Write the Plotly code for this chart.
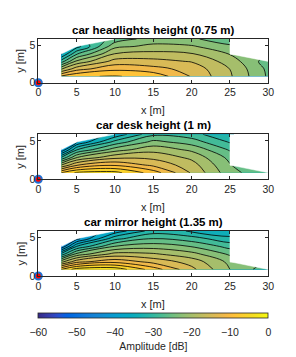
import plotly.graph_objects as go

# ---------------- data ----------------
x_grid = [3, 5, 10, 15, 20, 25, 30]
y_grid = [0.85, 1.85, 2.85, 3.85, 4.85, 5.85]
N = None

# rows follow y_grid, columns follow x_grid (amplitude in dB, None = no measurement)
amp_headlights = [
    [-8.5, -6.3, -5.8, -6.9, -12.25, -17.6, -24.45],
    [-18.5, -13.3, -9.8, -11.0, -13.1, -18.05, -24.75],
    [-28.5, -20.3, -13.8, -14.0, -15.2, -19.3, -25.6],
    [-36.5, -27.3, -17.8, -17.0, -17.75, -21.15, N],
    [N, -34.3, -21.8, -20.2, -20.6, -23.4, N],
    [N, N, -25.8, -22.6, -23.5, -25.9, N],
]
amp_desk = [
    [-6.0, -2.5, -2.0, -7.4, -15.35, -22.9, -26.5],
    [-18.0, -12.2, -9.4, -12.7, -16.65, -23.9, N],
    [-30.0, -21.2, -15.9, -15.8, -18.75, -24.9, N],
    [-42.0, -30.2, -22.4, -19.1, -21.65, -27.4, N],
    [N, -39.2, -28.9, -23.1, -25.45, -30.3, N],
    [N, N, -35.4, -27.7, -28.75, -33.0, N],
]
amp_mirror = [
    [-6.0, -1.5, -1.0, -7.4, -14.15, -21.0, -26.0],
    [-19.0, -13.0, -9.9, -13.0, -16.25, -21.8, N],
    [-32.0, -23.0, -16.9, -17.6, -19.95, -24.5, N],
    [-45.0, -33.0, -23.9, -22.3, -24.15, -28.1, N],
    [N, -43.0, -30.9, -26.95, -28.65, -32.0, N],
    [N, N, -37.9, -31.6, -33.25, -35.5, N],
]
titles = ["car headlights height (0.75 m)", "car desk height (1 m)", "car mirror height (1.35 m)"]
fields = [amp_headlights, amp_desk, amp_mirror]
source_x = [0]
source_y = [0]
x_ticks = [0, 5, 10, 15, 20, 25, 30]
y_ticks = [0, 5]
cbar_ticks = [-60, -50, -40, -30, -20, -10, 0]

# ---------------- style ----------------
W, H = 296, 357
PARULA_RGB = [
    (0.2081, 0.1663, 0.5292), (0.2116, 0.1898, 0.5777), (0.2123, 0.2138, 0.6270),
    (0.2081, 0.2386, 0.6771), (0.1959, 0.2645, 0.7279), (0.1707, 0.2919, 0.7792),
    (0.1253, 0.3242, 0.8303), (0.0591, 0.3598, 0.8683), (0.0117, 0.3875, 0.8820),
    (0.0060, 0.4086, 0.8828), (0.0165, 0.4266, 0.8786), (0.0329, 0.4430, 0.8720),
    (0.0498, 0.4586, 0.8641), (0.0629, 0.4737, 0.8554), (0.0723, 0.4887, 0.8467),
    (0.0779, 0.5040, 0.8384), (0.0793, 0.5200, 0.8312), (0.0749, 0.5375, 0.8263),
    (0.0641, 0.5570, 0.8240), (0.0488, 0.5772, 0.8228), (0.0343, 0.5966, 0.8199),
    (0.0265, 0.6137, 0.8135), (0.0239, 0.6287, 0.8038), (0.0231, 0.6418, 0.7913),
    (0.0228, 0.6535, 0.7768), (0.0267, 0.6642, 0.7607), (0.0384, 0.6743, 0.7436),
    (0.0590, 0.6838, 0.7254), (0.0843, 0.6928, 0.7062), (0.1133, 0.7015, 0.6859),
    (0.1453, 0.7098, 0.6646), (0.1801, 0.7177, 0.6424), (0.2178, 0.7250, 0.6193),
    (0.2586, 0.7317, 0.5954), (0.3022, 0.7376, 0.5712), (0.3482, 0.7424, 0.5473),
    (0.3953, 0.7459, 0.5244), (0.4420, 0.7481, 0.5033), (0.4871, 0.7491, 0.4840),
    (0.5300, 0.7491, 0.4661), (0.5709, 0.7485, 0.4494), (0.6099, 0.7473, 0.4337),
    (0.6473, 0.7456, 0.4188), (0.6834, 0.7435, 0.4044), (0.7184, 0.7411, 0.3905),
    (0.7525, 0.7384, 0.3768), (0.7858, 0.7356, 0.3633), (0.8185, 0.7327, 0.3498),
    (0.8507, 0.7299, 0.3360), (0.8824, 0.7274, 0.3217), (0.9139, 0.7258, 0.3063),
    (0.9450, 0.7261, 0.2886), (0.9739, 0.7314, 0.2666), (0.9938, 0.7455, 0.2403),
    (0.9990, 0.7653, 0.2164), (0.9955, 0.7861, 0.1967), (0.9880, 0.8066, 0.1794),
    (0.9789, 0.8271, 0.1633), (0.9697, 0.8481, 0.1475), (0.9626, 0.8705, 0.1309),
    (0.9589, 0.8949, 0.1132), (0.9598, 0.9218, 0.0948), (0.9661, 0.9514, 0.0755),
    (0.9763, 0.9831, 0.0538)]
cscale = [[i / (len(PARULA_RGB) - 1),
           "rgb(%d,%d,%d)" % tuple(round(255 * c) for c in rgb)]
          for i, rgb in enumerate(PARULA_RGB)]
FONT = "Liberation Sans, Arial, Helvetica, sans-serif"
TXT = "#262626"
x_px = (38.3, 268.3)
panels_px = [(39.0, 82.7), (134.3, 179.3), (231.0, 276.0)]
xc = (x_px[0] + x_px[1]) / 2 / W


def mask_polys(xg, yg, z):
    xs, ys = [], []
    for j in range(len(yg) - 1):
        for i in range(len(xg) - 1):
            corners = [(i, j), (i + 1, j), (i + 1, j + 1), (i, j + 1)]
            nan = [z[b][a] is None for a, b in corners]
            n = sum(nan)
            if n == 0:
                continue
            if n >= 2:
                pts = corners
            else:
                k = nan.index(True)
                pts = [corners[(k - 1) % 4], corners[k], corners[(k + 1) % 4]]
            for a, b in pts + [pts[0]]:
                xs.append(xg[a])
                ys.append(yg[b])
            xs.append(None)
            ys.append(None)
    return xs, ys


fig = go.Figure()
layout = dict(
    width=W, height=H, margin=dict(l=0, r=0, t=0, b=0, autoexpand=False),
    paper_bgcolor="white", plot_bgcolor="white",
    font=dict(family=FONT, color=TXT, size=10.5),
    showlegend=False, annotations=[],
)
axis_common = dict(showline=True, linecolor=TXT, linewidth=0.8, mirror="allticks",
                   ticks="inside", ticklen=3, tickwidth=0.8, tickcolor=TXT,
                   showgrid=False, zeroline=False, automargin=False,
                   tickfont=dict(family=FONT, size=10.5, color=TXT))

for k in range(3):
    sfx = "" if k == 0 else str(k + 1)
    xa, ya = "x" + sfx, "y" + sfx
    z = fields[k]
    fig.add_trace(go.Contour(
        x=x_grid, y=y_grid, z=z, xaxis=xa, yaxis=ya,
        colorscale=cscale, showscale=False, connectgaps=False,
        contours=dict(start=-60, end=0, size=3, coloring="fill", showlines=True),
        line=dict(color="black", width=0.8), hoverinfo="skip"))
    mx, my = mask_polys(x_grid, y_grid, z)
    fig.add_trace(go.Scatter(x=mx, y=my, xaxis=xa, yaxis=ya, mode="lines",
                             fill="toself", fillcolor="white",
                             line=dict(color="white", width=0.5), hoverinfo="skip"))
    fig.add_trace(go.Scatter(x=source_x, y=source_y, xaxis=xa, yaxis=ya, mode="markers",
                             cliponaxis=False,
                             marker=dict(size=7, color="red",
                                         line=dict(color="#1f6fd0", width=2)),
                             hoverinfo="skip"))
    top, bot = panels_px[k]
    layout["xaxis" + sfx] = dict(axis_common, domain=[x_px[0] / W, x_px[1] / W],
                                 range=[0, 30], tickvals=x_ticks, anchor=ya)
    layout["yaxis" + sfx] = dict(axis_common, domain=[1 - bot / H, 1 - top / H],
                                 range=[0, 5.85], tickvals=y_ticks, anchor=xa)
    layout["annotations"] += [
        dict(text="<b>" + titles[k] + "</b>", xref="paper", yref="paper",
             x=xc, y=1 - (top - 9) / H, yanchor="middle", xanchor="center",
             showarrow=False, font=dict(size=11.5, color="black", family=FONT)),
        dict(text="x [m]", xref="paper", yref="paper",
             x=xc, y=1 - (bot + 27.5) / H, yanchor="middle", xanchor="center",
             showarrow=False, font=dict(size=11, color=TXT, family=FONT)),
        dict(text="y [m]", xref="paper", yref="paper", textangle=-90,
             x=20 / W, y=1 - (top + bot) / 2 / H, yanchor="middle", xanchor="center",
             showarrow=False, font=dict(size=11, color=TXT, family=FONT)),
    ]

# continuous colorbar
fig.add_trace(go.Scatter(
    x=[None], y=[None], mode="markers", hoverinfo="skip",
    marker=dict(color=[0], colorscale=cscale, cmin=-60, cmax=0, showscale=True,
                colorbar=dict(orientation="h", x=xc, xanchor="center",
                              y=1 - 313.0 / H, yanchor="top",
                              len=x_px[1] - x_px[0], lenmode="pixels",
                              thickness=5, thicknessmode="pixels",
                              outlinecolor=TXT, outlinewidth=0.8,
                              ticks="outside", ticklen=5, tickcolor="rgba(0,0,0,0)",
                              tickvals=cbar_ticks,
                              tickfont=dict(size=10.5, color=TXT, family=FONT),
                              title=dict(text="Amplitude [dB]", side="bottom",
                                         font=dict(size=10.5, color=TXT, family=FONT)),
                              xpad=0, ypad=0))))

fig.update_layout(**layout)
fig.write_html("out.html", config={"displayModeBar": False},
               post_script="document.body.style.margin='0';")
